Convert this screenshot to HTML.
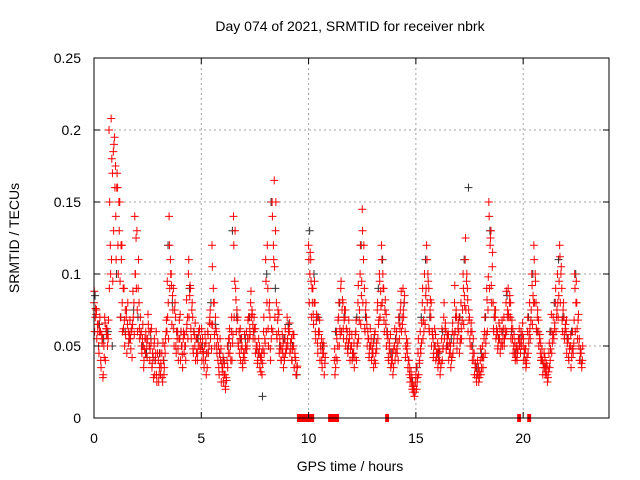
<!DOCTYPE html>
<html><head><meta charset="utf-8"><style>
body{margin:0;background:#fff;}
svg{display:block;font-family:"Liberation Sans",sans-serif;}
</style></head><body>
<svg id="chart" width="640" height="480" viewBox="0 0 640 480" xmlns="http://www.w3.org/2000/svg">
<rect width="640" height="480" fill="#fff"/>
<text x="350" y="31" font-size="14" text-anchor="middle">Day 074 of 2021, SRMTID for receiver nbrk</text>
<text x="350" y="471" font-size="14" text-anchor="middle">GPS time / hours</text>
<text transform="translate(19,238) rotate(-90)" font-size="14" text-anchor="middle">SRMTID / TECUs</text>
<g id="grid"></g>
<g id="black"></g>
<g id="red"></g>
<g id="gaps"></g>
<g id="axes"></g>
</svg>
<script>
const xTicks=[0,5,10,15,20];
const yTicks=[0,0.05,0.1,0.15,0.2,0.25];
const yTickLabels=["0","0.05","0.1","0.15","0.2","0.25"];
const timeStep=0.1;
const redA=[80,72,65,60,55,70,62,200,208,185,175,160,150,120,90,70,60,55,65,140,
130,80,60,50,45,55,40,35,50,60,40,30,25,50,60,140,100,90,70,60,
55,50,45,60,100,90,70,50,55,60,50,45,40,60,70,120,80,60,50,40,
35,30,40,55,60,140,90,70,55,50,45,60,70,80,65,55,50,45,40,60,
110,90,70,150,165,80,60,50,45,55,70,60,55,50,40,-1,-1,-1,-1,-1,
120,110,90,80,70,60,55,45,-1,-1,-1,-1,40,60,70,90,80,70,60,55,
50,45,60,80,100,145,90,70,55,50,45,60,75,100,120,90,65,55,45,40,
50,60,70,80,90,60,45,30,25,20,30,45,60,80,100,120,90,70,55,50,
45,40,55,70,60,50,45,60,80,70,60,80,100,110,90,70,50,40,35,30,
40,50,60,90,150,130,80,70,60,55,60,70,80,90,70,55,45,50,55,60,
50,40,60,80,100,120,80,60,45,40,35,30,45,60,70,80,100,120,90,70,
60,55,50,60,100,80,50,45,-1,-1];
const redB=[60,55,45,35,30,40,50,150,180,190,110,100,70,60,50,45,55,60,70,100,
60,55,45,40,55,65,60,45,30,25,30,35,40,55,70,90,65,50,45,40,
40,35,50,65,70,55,45,40,45,50,40,35,30,45,55,65,50,45,30,25,
25,20,35,45,40,70,60,50,40,35,40,50,55,70,60,45,40,35,30,45,
60,50,40,60,70,55,45,40,35,45,50,45,40,35,30,-1,-1,-1,-1,-1,
80,70,65,55,45,40,35,30,-1,-1,-1,-1,30,40,50,60,55,50,45,40,
40,35,40,55,65,80,60,50,45,40,35,45,55,70,80,60,50,40,35,30,
40,45,55,60,70,50,35,25,20,15,20,30,45,55,65,80,60,50,45,40,
35,30,40,55,50,40,35,45,60,55,45,55,65,75,60,50,40,30,25,25,
30,35,45,60,90,80,60,55,50,45,50,55,60,70,55,45,40,45,50,55,
40,35,45,55,65,80,60,50,40,35,30,25,35,45,55,60,70,80,60,55,
45,40,35,45,60,55,40,35,-1,-1];
const redC=[70,65,60,58,50,62,55,120,170,195,160,150,120,90,75,65,58,62,80,125,
90,70,55,48,50,60,52,42,40,45,35,45,30,60,80,110,85,75,60,55,
60,55,50,70,85,75,60,55,50,55,55,50,45,50,65,90,70,55,45,38,
30,28,45,50,52,95,75,60,48,42,50,55,62,75,70,50,45,42,38,55,
80,75,55,120,130,68,55,48,42,50,60,52,48,45,35,-1,-1,-1,-1,-1,
100,90,80,68,60,50,45,38,-1,-1,-1,-1,35,50,62,75,68,62,52,48,
45,42,50,68,85,110,75,60,50,45,40,52,65,88,100,75,58,48,40,35,
45,52,62,70,80,55,40,28,22,18,25,38,52,68,85,100,75,60,50,45,
40,35,48,62,55,45,40,52,70,62,52,68,85,95,75,60,45,35,30,28,
35,42,52,75,120,105,70,62,55,50,55,62,70,80,62,50,42,48,52,58,
45,38,52,68,85,100,70,55,42,38,32,28,40,52,62,70,85,100,75,62,
52,48,42,52,80,68,45,40,-1,-1];
const redD=[88,75,50,40,28,66,58,90,110,130,140,120,95,80,68,75,52,48,88,100,
75,62,50,35,60,72,48,38,55,30,25,38,52,45,95,120,92,62,50,48,
72,44,58,82,110,62,48,66,40,62,62,40,52,58,75,105,58,50,35,48,
42,22,50,62,70,120,82,52,62,38,58,48,70,88,55,62,38,50,45,70,
95,62,48,140,105,58,72,40,52,62,55,66,40,58,30,-1,-1,-1,-1,-1,
110,95,72,60,52,68,40,50,-1,-1,-1,-1,48,55,80,95,62,75,48,60,
58,52,68,92,120,130,62,65,42,55,52,38,80,95,110,68,72,42,58,45,
62,48,66,88,75,42,52,35,28,22,35,55,48,90,75,110,62,80,42,58,
52,46,62,80,48,58,50,66,92,48,70,62,90,125,82,55,60,45,28,35,
48,42,70,82,140,92,62,75,48,62,68,50,88,72,80,62,52,40,62,50,
55,48,70,62,92,110,62,68,52,30,42,36,52,72,58,90,80,112,68,58,
68,42,58,48,90,62,55,38,-1,-1];
const redE=[76,60,70,52,42,58,68,100,95,160,170,130,110,62,58,80,68,42,58,90,
110,58,65,55,42,50,62,28,45,52,45,28,35,68,55,100,75,80,55,68,
50,60,40,55,92,80,58,45,60,48,46,58,35,66,48,80,62,40,55,32,
38,26,55,40,58,130,68,45,55,45,48,68,58,72,62,48,55,32,48,52,
120,80,62,110,150,75,48,58,40,48,62,48,58,42,36,-1,-1,-1,-1,-1,
115,80,95,72,58,48,52,42,-1,-1,-1,-1,42,68,58,82,75,55,68,50,
42,58,52,75,95,120,80,55,62,48,58,48,68,78,90,82,60,52,38,48,
55,40,75,65,85,48,40,32,18,25,28,40,66,60,90,95,82,58,62,42,
48,38,50,66,58,52,42,58,75,66,55,75,78,100,68,66,55,38,40,32,
42,55,58,98,125,115,75,58,66,52,62,58,75,85,68,58,48,55,45,66,
48,42,58,75,80,95,75,58,48,45,38,32,48,58,66,75,95,105,80,65,
55,50,48,68,95,72,48,50,-1,-1];
const blackStep=0.2;
const black=[85,65,55,60,50,100,70,60,55,75,70,50,45,55,40,45,40,120,80,60,
60,50,90,60,55,50,45,80,65,45,40,50,130,70,55,55,70,60,45,15,
100,150,90,50,55,65,50,30,-1,-1,130,100,70,50,-1,-1,60,80,70,50,
45,70,120,70,50,55,90,110,60,45,55,70,80,40,25,35,70,110,70,50,
45,60,50,55,70,70,110,160,50,35,45,70,130,70,55,60,85,60,45,55,
45,70,100,60,40,35,60,80,110,70,55,60,100,40,-1];
const gapStart=[9.46,10.91,13.57,19.72,20.19];
const gapEnd=[10.26,11.42,13.75,19.9,20.37];

const L=94,R=609,T=58,B=418,XMAX=24,YMAX=0.25;
const xs=h=>L+h/XMAX*(R-L);
const ys=v=>B-v/YMAX*(B-T);
const NS="http://www.w3.org/2000/svg";
function mk(tag,attrs,parent){const e=document.createElementNS(NS,tag);for(const k in attrs)e.setAttribute(k,attrs[k]);parent.appendChild(e);return e;}
const grid=document.getElementById('grid'),axes=document.getElementById('axes');
yTicks.forEach((v,i)=>{
  const y=ys(v);
  if(i>0&&i<yTicks.length-1){const g=mk('line',{x1:L,x2:R,y1:y,y2:y,stroke:'#a0a0a0','stroke-dasharray':'2,3'},grid);
  
  }
  const t=mk('text',{x:L-13,y:y+5,'font-size':14,'text-anchor':'end'},axes);t.textContent=yTickLabels[i];
  
  
  mk('line',{x1:L,x2:L+6,y1:y,y2:y,stroke:'#000'},axes);
  mk('line',{x1:R,x2:R-6,y1:y,y2:y,stroke:'#000'},axes);
});
xTicks.forEach(h=>{
  const x=xs(h);
  if(h>0){const g=mk('line',{x1:x,x2:x,y1:T,y2:B,stroke:'#a0a0a0','stroke-dasharray':'2,3'},grid);
  
  }
  const t=mk('text',{x:x,y:443,'font-size':14,'text-anchor':'middle'},axes);t.textContent=String(h);
  
  
  mk('line',{x1:x,x2:x,y1:B,y2:B-6,stroke:'#000'},axes);
  mk('line',{x1:x,x2:x,y1:T,y2:T+6,stroke:'#000'},axes);
});
const fr=mk('rect',{x:L,y:T,width:R-L,height:B-T,fill:'none',stroke:'#000','stroke-width':1},axes);


const bg=document.getElementById('black');
black.forEach((v,i)=>{if(v<0)return;const x=xs(i*blackStep+0.05),y=ys(v/1000);
const p=mk('path',{d:`M${x-4} ${y}h8M${x} ${y-4}v8`,stroke:'#303030','stroke-width':1},bg);

});
const rg=document.getElementById('red');
[[redA,0],[redB,0.03],[redC,0.06],[redD,0.015],[redE,0.075]].forEach(([arr,off])=>{
  arr.forEach((v,i)=>{if(v<0)return;const x=xs(i*timeStep+off),y=ys(v/1000);
    const p=mk('path',{d:`M${x-4} ${y}h8M${x} ${y-4}v8`,stroke:'#ff0000','stroke-width':1},rg);
    
    });
});
const gg=document.getElementById('gaps');
gapStart.forEach((s,i)=>{const r=mk('rect',{x:xs(s),y:414,width:xs(gapEnd[i])-xs(s),height:8,fill:'#ff0000'},gg);

});
</script>
</body></html>
